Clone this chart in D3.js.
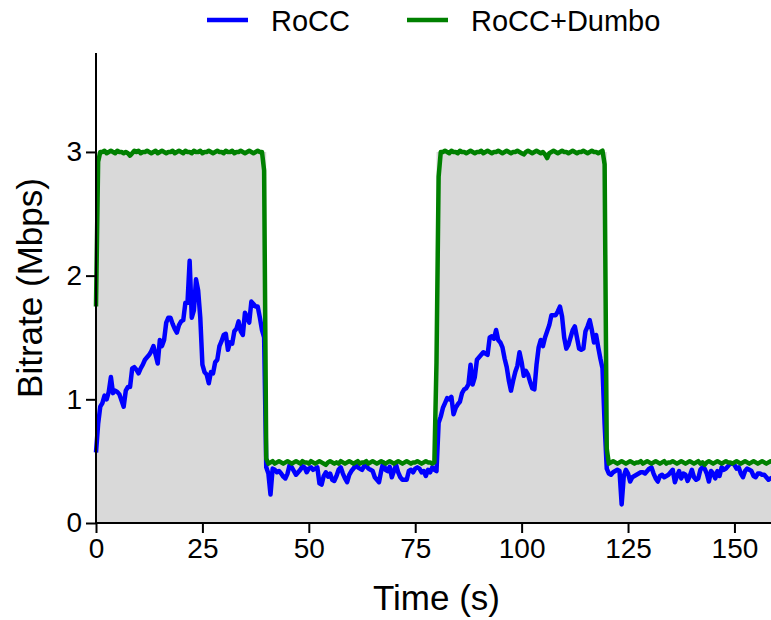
<!DOCTYPE html>
<html>
<head>
<meta charset="utf-8">
<script src="https://cdn.jsdelivr.net/npm/d3@7"></script>
<style>
  html, body { margin: 0; padding: 0; background: #fff; }
  svg { display: block; }
  text { font-family: "Liberation Sans", Arial, sans-serif; fill: #000; }
</style>
</head>
<body>
<svg id="chart" width="771" height="620"></svg>
<script>
// ---- data ----
const timeStep = 0.5;               // seconds between samples
const seriesNames = ["RoCC", "RoCC+Dumbo"];
const xTicks = [0, 25, 50, 75, 100, 125, 150];
const yTicks = [0, 1, 2, 3];

// link capacity (gray area)
const capacityTime  = [0, 40, 40, 80, 80, 120, 120, 160];
const capacityValue = [3, 3, 0.5, 0.5, 3, 3, 0.5, 0.5];

// RoCC bitrate (Mbps), every 0.5 s from 0 to 160 s
const rocc = [
  0.57,0.80,0.94,0.97,1.03,1.00,1.06,1.18,1.05,1.07,
  1.06,1.04,0.99,0.94,1.07,1.10,1.10,1.25,1.26,1.24,
  1.21,1.25,1.28,1.32,1.34,1.36,1.39,1.43,1.36,1.29,
  1.48,1.43,1.48,1.62,1.66,1.66,1.61,1.57,1.54,1.60,
  1.63,1.64,1.78,1.78,2.12,1.66,1.72,1.97,1.88,1.66,
  1.28,1.22,1.20,1.13,1.22,1.21,1.30,1.32,1.43,1.47,
  1.52,1.53,1.40,1.46,1.45,1.55,1.57,1.63,1.55,1.52,
  1.70,1.66,1.62,1.79,1.77,1.75,1.75,1.66,1.56,1.50,
  0.45,0.40,0.23,0.44,0.43,0.41,0.42,0.40,0.375,0.36,
  0.40,0.47,0.45,0.42,0.39,0.41,0.43,0.46,0.45,0.41,
  0.44,0.45,0.43,0.44,0.45,0.32,0.31,0.38,0.41,0.375,
  0.40,0.35,0.34,0.38,0.43,0.45,0.40,0.36,0.33,0.39,
  0.42,0.44,0.47,0.45,0.44,0.43,0.46,0.46,0.44,0.43,
  0.42,0.37,0.35,0.33,0.42,0.49,0.43,0.42,0.455,0.37,
  0.42,0.47,0.41,0.37,0.35,0.35,0.35,0.42,0.43,0.41,
  0.44,0.45,0.44,0.41,0.42,0.38,0.43,0.41,0.45,0.43,
  0.42,0.81,0.86,0.93,0.97,1.01,1.00,1.02,0.88,0.93,
  0.96,0.98,1.05,1.08,1.09,1.12,1.28,1.12,1.18,1.32,
  1.34,1.36,1.38,1.37,1.36,1.50,1.51,1.49,1.56,1.48,
  1.46,1.42,1.33,1.26,1.15,1.07,1.15,1.22,1.27,1.38,
  1.30,1.19,1.23,1.20,1.14,1.09,1.08,1.28,1.42,1.48,
  1.43,1.50,1.55,1.60,1.68,1.68,1.68,1.71,1.75,1.67,
  1.50,1.41,1.44,1.50,1.56,1.59,1.50,1.41,1.40,1.41,
  1.55,1.59,1.64,1.56,1.46,1.52,1.42,1.33,1.25,0.80,
  0.44,0.40,0.39,0.41,0.42,0.43,0.42,0.15,0.38,0.43,
  0.40,0.335,0.37,0.38,0.39,0.40,0.41,0.41,0.40,0.42,
  0.44,0.45,0.40,0.36,0.335,0.38,0.39,0.37,0.38,0.39,
  0.41,0.43,0.33,0.38,0.42,0.36,0.40,0.39,0.34,0.38,
  0.43,0.37,0.35,0.36,0.43,0.45,0.44,0.40,0.335,0.42,
  0.40,0.36,0.42,0.38,0.45,0.43,0.44,0.46,0.48,0.48,
  0.47,0.44,0.45,0.40,0.37,0.42,0.44,0.43,0.42,0.38,
  0.37,0.40,0.40,0.39,0.39,0.37,0.35,0.36,0.37,0.36,
  0.35
];

// RoCC+Dumbo bitrate (Mbps), every 0.5 s from 0 to 160 s
const roccDumbo = [
  1.75,2.92,3.00,
  3.00,3.01,2.99,3.00,3.01,3.00,2.99,3.01,3.00,3.00,
  2.99,3.00,2.99,2.97,2.99,3.01,3.00,3.01,2.99,3.00,
  3.00,3.01,3.00,2.99,3.00,3.01,2.99,3.00,3.01,3.00,
  2.99,3.00,3.00,3.01,2.99,3.00,3.01,3.00,2.99,3.01,
  3.00,3.00,2.99,3.01,3.00,3.00,3.01,2.99,3.00,3.00,
  3.01,3.00,2.99,3.00,3.01,3.00,3.00,2.99,3.01,3.00,
  3.00,3.01,2.99,3.00,3.00,3.01,3.00,2.99,3.00,3.01,
  3.00,2.99,3.00,3.01,3.00,3.00,
  2.85,0.52,0.48,
  0.49,0.50,0.48,0.49,0.50,0.49,0.48,0.49,0.50,0.49,
  0.48,0.49,0.50,0.49,0.48,0.50,0.49,0.49,0.48,0.50,
  0.49,0.48,0.49,0.50,0.49,0.48,0.47,0.49,0.50,0.49,
  0.48,0.49,0.48,0.50,0.49,0.48,0.49,0.50,0.49,0.48,
  0.49,0.50,0.48,0.49,0.49,0.50,0.48,0.49,0.50,0.49,
  0.48,0.49,0.50,0.49,0.48,0.49,0.50,0.49,0.48,0.49,
  0.50,0.49,0.48,0.49,0.50,0.49,0.48,0.49,0.49,0.50,
  0.49,0.48,0.49,0.50,0.49,0.49,0.48,0.49,
  1.30,2.80,3.00,
  3.00,3.01,3.00,2.99,3.01,3.00,3.00,2.99,3.01,3.00,
  3.00,2.99,3.00,3.01,3.00,2.99,3.00,3.00,3.01,2.99,
  3.00,3.01,3.00,2.99,3.00,3.00,3.01,3.00,2.99,3.00,
  3.01,3.00,2.99,3.00,3.00,3.01,3.00,2.99,2.98,3.00,
  3.01,3.00,2.99,3.00,3.01,3.00,2.99,3.00,2.98,2.95,
  2.99,3.00,3.01,3.00,2.99,3.00,3.01,3.00,3.00,2.99,
  3.00,3.01,3.00,2.99,3.00,3.00,3.01,3.00,2.99,3.00,
  3.01,3.00,3.00,2.99,3.00,3.01,
  2.90,0.60,0.48,
  0.49,0.50,0.49,0.48,0.49,0.50,0.49,0.48,0.49,0.50,
  0.49,0.48,0.49,0.49,0.50,0.48,0.49,0.50,0.49,0.48,
  0.49,0.50,0.49,0.48,0.49,0.50,0.48,0.49,0.49,0.50,
  0.49,0.48,0.49,0.50,0.49,0.48,0.49,0.50,0.49,0.48,
  0.49,0.50,0.48,0.49,0.47,0.49,0.50,0.49,0.48,0.49,
  0.50,0.49,0.48,0.49,0.50,0.49,0.49,0.48,0.49,0.50,
  0.49,0.48,0.49,0.50,0.49,0.48,0.49,0.50,0.49,0.48,
  0.49,0.50,0.49,0.48,0.49,0.50,0.49,0.48,0.49
];

// ---- chart ----
const svg = d3.select("#chart");
const colors = ["#0000ff", "#008000"];
const x = d3.scaleLinear().domain([0, 160]).range([96, 777]);
const y = d3.scaleLinear().domain([0, 3.8]).range([523, 53]);

const times = rocc.map((_, i) => i * timeStep);

// capacity area
const capData = capacityTime.map((t, i) => ({ t, v: capacityValue[i] }));
svg.append("path")
  .datum(capData)
  .attr("fill", "#d9d9d9")
  .attr("d", d3.area().x(d => x(d.t)).y0(y(0)).y1(d => y(d.v)));

const line = d3.line().x((d, i) => x(times[i])).y(d => y(d));
[rocc, roccDumbo].forEach((s, k) => {
  svg.append("path")
    .datum(s)
    .attr("fill", "none")
    .attr("stroke", colors[k])
    .attr("stroke-width", 4.5)
    .attr("stroke-linejoin", "round")
    .attr("d", line);
});

// axes
const xAxis = svg.append("g")
  .attr("transform", `translate(0,${y(0)})`)
  .call(d3.axisBottom(x).tickValues(xTicks).tickSize(10).tickPadding(5).tickFormat(d3.format("d")));
const yAxis = svg.append("g")
  .attr("transform", `translate(${x(0)},0)`)
  .call(d3.axisLeft(y).tickValues(yTicks).tickSize(10).tickPadding(4).tickFormat(d3.format("d")));

[xAxis, yAxis].forEach(g => {
  g.selectAll(".domain").attr("stroke", "#000").attr("stroke-width", 2);
  g.selectAll(".tick line").attr("stroke", "#000").attr("stroke-width", 2);
  g.selectAll(".tick text").attr("font-size", 28).attr("font-family", "Liberation Sans, Arial, sans-serif").attr("fill", "#000");
});
xAxis.select(".domain").attr("d", `M${x(0)},0H771`);
yAxis.select(".domain").attr("d", `M0,${y(0)}V${y(3.8)}`);

// axis labels
svg.append("text")
  .attr("x", x(80)).attr("y", 610)
  .attr("text-anchor", "middle")
  .attr("font-size", 35)
  .text("Time (s)");
svg.append("text")
  .attr("transform", `translate(42,${(y(0) + y(3.8)) / 2}) rotate(-90)`)
  .attr("text-anchor", "middle")
  .attr("font-size", 35)
  .text("Bitrate (Mbps)");

// legend
const legendX = [207, 407];
seriesNames.forEach((name, k) => {
  svg.append("line")
    .attr("x1", legendX[k]).attr("x2", legendX[k] + 41)
    .attr("y1", 20).attr("y2", 20)
    .attr("stroke", colors[k]).attr("stroke-width", 4.5);
  svg.append("text")
    .attr("x", legendX[k] + 64).attr("y", 31)
    .attr("font-size", 29)
    .text(name);
});
</script>
</body>
</html>
